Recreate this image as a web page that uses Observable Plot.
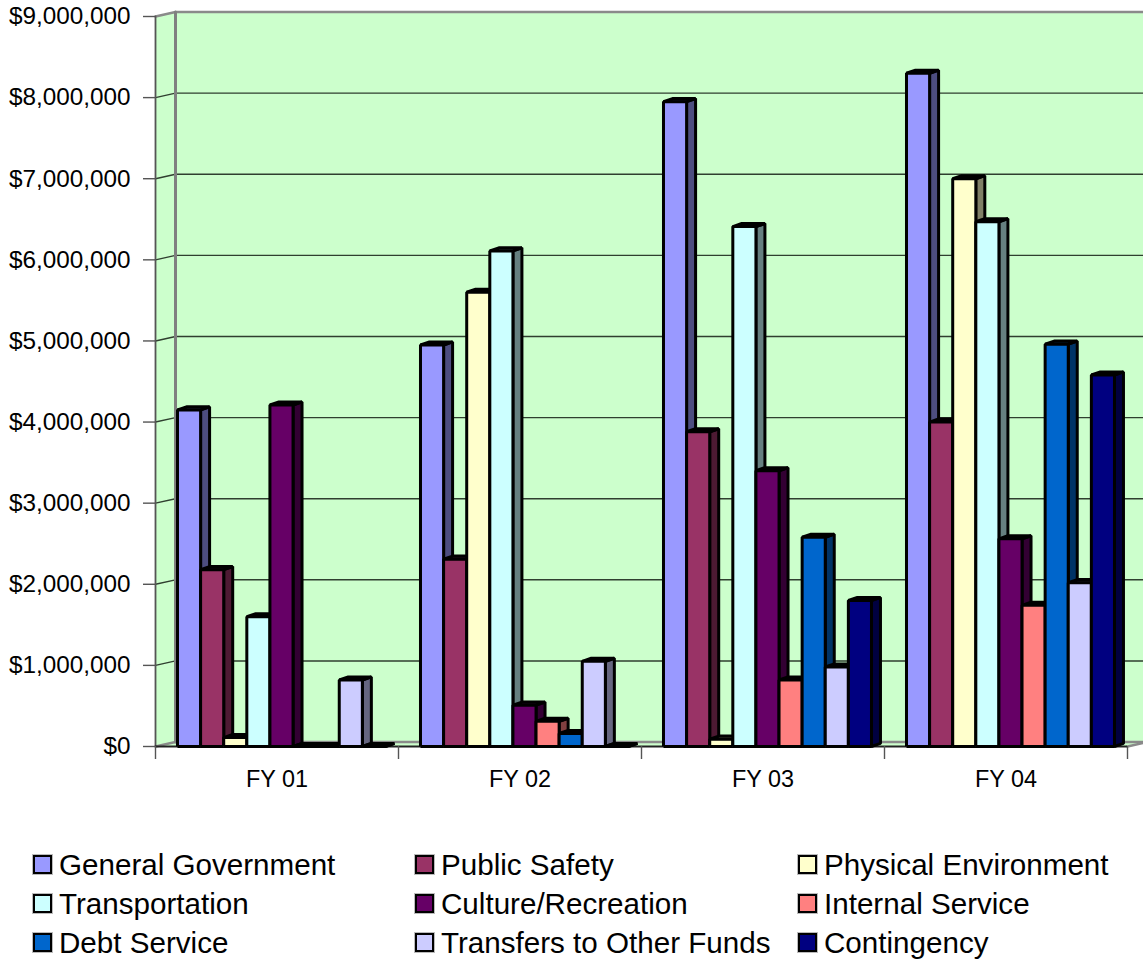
<!DOCTYPE html>
<html>
<head>
<meta charset="utf-8">
<script src="https://cdn.jsdelivr.net/npm/d3@7"></script>
<script src="https://cdn.jsdelivr.net/npm/@observablehq/plot@0.6"></script>
<style>
  html, body { margin: 0; padding: 0; background: #fff; overflow: hidden; }
  body { width: 1143px; height: 962px; font-family: "Liberation Sans", Arial, sans-serif; }
  #legend {
    position: relative;
    margin: 45px 0 0 33px;
    display: grid;
    grid-template-columns: 382px 383px auto;
    grid-auto-rows: 39px;
    font-size: 29.6px;
    color: #000;
    white-space: nowrap;
  }
  #legend .item { display: flex; align-items: center; }
  #legend .swatch {
    width: 15px; height: 15px; border: 2px solid #000; outline: 1px solid #bbb;
    margin-right: 7px; flex: none;
  }
</style>
</head>
<body>
<div id="chart"></div>
<div id="legend"></div>
<script>
// Budget by function, fiscal years 01 to 04
const fiscalYears = ["FY 01", "FY 02", "FY 03", "FY 04"];
const seriesNames = [
  "General Government", "Public Safety", "Physical Environment",
  "Transportation", "Culture/Recreation", "Internal Service",
  "Debt Service", "Transfers to Other Funds", "Contingency"
];
const seriesColors = [
  "#9999ff", "#993366", "#ffffcc", "#ccffff", "#660066",
  "#ff8080", "#0066cc", "#ccccff", "#000080"
];
const generalGovernment = [4150000, 4950000, 7950000, 8300000];
const publicSafety      = [2180000, 2310000, 3880000, 4000000];
const physicalEnv       = [110000, 5600000, 90000, 7000000];
const transportation    = [1600000, 6110000, 6410000, 6470000];
const cultureRecreation = [4210000, 510000, 3400000, 2560000];
const internalService   = [0, 310000, 820000, 1740000];
const debtService       = [0, 160000, 2580000, 4960000];
const transfersOut      = [820000, 1050000, 980000, 2020000];
const contingency       = [0, 0, 1800000, 4580000];
const seriesValues = [
  generalGovernment, publicSafety, physicalEnv, transportation,
  cultureRecreation, internalService, debtService, transfersOut, contingency
];
const yTicks = d3.range(0, 9000001, 1000000);

// Layout of one fiscal-year slot, in slot units on the x scale
const barGap = 0.0905;
const barWidth = 0.0951;
const barDepthX = 0.037;
const barDepthY = 38000;
const wallDepthX = 0.0823;
const wallDepthY = 55000;
const yMax = 9000000;
const wallFill = "#ccffcc";
const half = (c) => { const r = d3.rgb(c); return d3.rgb(r.r / 2, r.g / 2, r.b / 2).formatHex(); };

// Polygons for each bar: side and top faces first, then the front faces on top
const sides = [], tops = [], fronts = [];
let polyId = 0;
function polygon(target, pts, fill) {
  const id = polyId++;
  for (const [x, y] of [...pts, pts[0]]) target.push({ id, x, y, fill });
}
fiscalYears.forEach((_, g) => {
  seriesValues.forEach((vals, s) => {
    const v = vals[g];
    const xl = g + barGap + s * barWidth;
    const xr = xl + barWidth;
    const c = seriesColors[s];
    polygon(sides, [[xr, 0], [xr + barDepthX, barDepthY], [xr + barDepthX, v + barDepthY], [xr, v]], half(c));
    polygon(tops, [[xl, v], [xl + barDepthX, v + barDepthY], [xr + barDepthX, v + barDepthY], [xr, v]], half(c));
    polygon(fronts, [[xl, 0], [xl, v], [xr, v], [xr, 0]], c);
  });
});

// Walls and floor of the plot box
const walls = [];
const n = fiscalYears.length;
polygon(walls, [[wallDepthX, wallDepthY], [wallDepthX, yMax + wallDepthY], [n + wallDepthX, yMax + wallDepthY], [n + wallDepthX, wallDepthY]], wallFill);
polygon(walls, [[0, 0], [0, yMax], [wallDepthX, yMax + wallDepthY], [wallDepthX, wallDepthY]], wallFill);
polygon(walls, [[0, 0], [n, 0], [n + wallDepthX, wallDepthY], [wallDepthX, wallDepthY]], wallFill);

// Gridlines run across the back wall and down the side wall
const gridValues = yTicks.slice(1, -1);
const grid = gridValues.flatMap((v, i) => [
  { id: i, x: 0, y: v }, { id: i, x: wallDepthX, y: v + wallDepthY }, { id: i, x: n + wallDepthX, y: v + wallDepthY }
]);
const edgeGrey = [
  { id: "top", x: 0, y: yMax }, { id: "top", x: wallDepthX, y: yMax + wallDepthY }, { id: "top", x: n + wallDepthX, y: yMax + wallDepthY },
  { id: "floor", x: 0, y: 0 }, { id: "floor", x: wallDepthX, y: wallDepthY }, { id: "floor", x: n + wallDepthX, y: wallDepthY },
  { id: "floor2", x: n, y: 0 }, { id: "floor2", x: n + wallDepthX, y: wallDepthY }
];
const edgeBack = [
  { id: "back", x: wallDepthX, y: wallDepthY }, { id: "back", x: wallDepthX, y: yMax + wallDepthY }
];
const edgeFront = [
  { id: "front", x: 0, y: 0 }, { id: "front", x: 0, y: yMax }
];
const faceOpts = { x: "x", y: "y", z: "id", fill: "fill", stroke: "#000", strokeWidth: 3, curve: "linear", strokeLinejoin: "miter", strokeLinecap: "butt" };

const chart = Plot.plot({
  width: 1143,
  height: 800,
  marginLeft: 155,
  marginRight: 16,
  marginTop: 16,
  marginBottom: 54,
  style: { fontFamily: "Liberation Sans, Arial, sans-serif", color: "#000", background: "#fff" },
  x: { type: "linear", domain: [0, n], axis: null },
  y: { type: "linear", domain: [0, yMax], axis: null },
  color: { type: "identity" },
  marks: [
    Plot.line(walls, { x: "x", y: "y", z: "id", fill: "fill", stroke: "none", curve: "linear" }),
    Plot.line(grid, { x: "x", y: "y", z: "id", stroke: "#2f3f2f", strokeWidth: 1.4, curve: "linear" }),
    Plot.line(edgeGrey, { x: "x", y: "y", z: "id", stroke: "#8a8a8a", strokeWidth: 2.4, curve: "linear" }),
    Plot.line(edgeBack, { x: "x", y: "y", z: "id", stroke: "#808080", strokeWidth: 3, curve: "linear" }),
    Plot.line(edgeFront, { x: "x", y: "y", z: "id", stroke: "#555", strokeWidth: 1.8, curve: "linear" }),
    Plot.axisY({
      ticks: yTicks, tickFormat: d3.format("$,"), tickSize: 12, tickPadding: 13,
      fontSize: 24.3, stroke: "#555", strokeWidth: 1.4, label: null, fill: "#000"
    }),
    Plot.ruleY([0], { stroke: "#222", strokeWidth: 2 }),
    Plot.axisX({ ticks: d3.range(n + 1), tickFormat: () => "", tickSize: 13, stroke: "#555", strokeWidth: 1.4, label: null }),
    Plot.axisX({
      ticks: fiscalYears.map((_, i) => i + 0.5), tickFormat: (d) => fiscalYears[d - 0.5],
      tickSize: 0, tickPadding: 24, fontSize: 23.4, label: null, fill: "#000"
    }),
    Plot.line(sides, faceOpts),
    Plot.line(tops, faceOpts),
    Plot.line(fronts, faceOpts)
  ]
});
document.getElementById("chart").append(chart);

const legend = d3.select("#legend");
seriesNames.forEach((name, i) => {
  const item = legend.append("div").attr("class", "item");
  item.append("span").attr("class", "swatch").style("background", seriesColors[i]);
  item.append("span").text(name);
});
</script>
</body>
</html>
